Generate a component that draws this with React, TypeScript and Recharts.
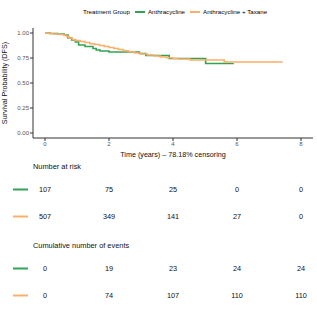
import { LineChart, Line, XAxis, YAxis, ScatterChart, Scatter } from 'recharts';

const groups = ['Anthracycline', 'Anthracycline + Taxane'];
const colors = ['#31a354', '#fdae6b'];

// KM step points (time in years, survival probability)
const anthTime = [0, 0.15, 0.4, 0.6, 0.72, 0.83, 0.95, 1.05, 1.25, 1.5, 1.6, 1.72, 2.0, 2.95, 3.15, 3.88, 5.02, 5.9];
const anthSurv = [1.0, 0.995, 0.99, 0.98, 0.95, 0.93, 0.91, 0.88, 0.865, 0.845, 0.83, 0.82, 0.81, 0.795, 0.775, 0.745, 0.695, 0.695];
const taxTime = [0, 0.1, 0.25, 0.45, 0.6, 0.68, 0.75, 0.85, 0.95, 1.1, 1.25, 1.4, 1.55, 1.7, 1.85, 2.0, 2.15, 2.3, 2.45, 2.6, 2.8, 3.0, 3.2, 3.4, 3.6, 3.8, 4.0, 4.15, 4.53, 5.6, 7.43];
const taxSurv = [1.0, 0.995, 0.99, 0.985, 0.975, 0.965, 0.95, 0.935, 0.925, 0.915, 0.905, 0.893, 0.885, 0.875, 0.865, 0.855, 0.845, 0.835, 0.822, 0.812, 0.8, 0.79, 0.78, 0.77, 0.76, 0.752, 0.745, 0.74, 0.73, 0.71, 0.71];

const xTicks = [0, 2, 4, 6, 8];
const yTicks = [0, 0.25, 0.5, 0.75, 1];

const tableTimes = [0, 2, 4, 6, 8];
const riskAnth = [107, 75, 25, 0, 0];
const riskTax = [507, 349, 141, 27, 0];
const eventsAnth = [0, 19, 23, 24, 24];
const eventsTax = [0, 74, 107, 110, 110];

const font = '"Liberation Sans", Arial, sans-serif';

const anthData = anthTime.map((t, i) => ({ t, s: anthSurv[i] }));
const taxData = taxTime.map((t, i) => ({ t, s: taxSurv[i] }));

function RiskTable({ rows, top }: { rows: number[][]; top: number }) {
  const data = rows.flatMap((vals, r) => vals.map((n, i) => ({ t: tableTimes[i], row: r, n })));
  return (
    <div style={{ position: 'absolute', left: 0, top }}>
      <ScatterChart width={317} height={54} margin={{ top: 0, right: 4, bottom: 0, left: 0 }}>
        <XAxis type="number" dataKey="t" domain={[0, 8]} hide padding={{ left: 12, right: 12 }} />
        <YAxis
          type="number" dataKey="row" domain={[-0.5, 1.5]} reversed width={33} ticks={[0, 1]}
          axisLine={false} tickLine={false}
          tick={(p: any) => (
            <line key={p.index} x1={13} x2={28} y1={p.y} y2={p.y} stroke={colors[p.payload.value]} strokeWidth={2} />
          )}
        />
        <Scatter
          data={data} isAnimationActive={false}
          shape={(p: any) => (
            <text x={p.cx} y={p.cy} textAnchor="middle" dominantBaseline="central" fontSize={7.3} fontFamily={font} fill="#111">
              {p.payload.n}
            </text>
          )}
        />
      </ScatterChart>
    </div>
  );
}

export default function App() {
  return (
    <div style={{ position: 'absolute', left: 0, top: 0, width: 317, height: 317, background: '#fff', fontFamily: font }}>
      <div style={{ position: 'absolute', left: 83, top: 8, display: 'flex', alignItems: 'center', fontSize: 6.2, color: '#000', whiteSpace: 'nowrap' }}>
        <span style={{ marginRight: 5 }}>Treatment Group</span>
        <span style={{ width: 10, height: 2, background: colors[0], marginRight: 3 }} />
        <span style={{ marginRight: 5 }}>{groups[0]}</span>
        <span style={{ width: 10, height: 2, background: colors[1], marginRight: 3 }} />
        <span>{groups[1]}</span>
      </div>
      <div style={{ position: 'absolute', left: 0, top: 0 }}>
        <LineChart width={317} height={160} margin={{ top: 28, right: 4, bottom: 0, left: 0 }}>
          <XAxis
            type="number" dataKey="t" domain={[0, 8]} ticks={xTicks} padding={{ left: 12, right: 12 }}
            height={22} tickSize={3} tickMargin={1} stroke="#333"
            tick={{ fontSize: 6, fill: '#555', fontFamily: font }}
            label={{ value: 'Time (years) – 78.18% censoring', position: 'insideBottom', offset: 3, fontSize: 7.2, fill: '#111', fontFamily: font }}
          />
          <YAxis
            type="number" domain={[0, 1]} ticks={yTicks} padding={{ top: 5, bottom: 5 }}
            width={33} tickSize={3} tickMargin={1} stroke="#333"
            tickFormatter={(v: number) => v.toFixed(2)}
            tick={{ fontSize: 6, fill: '#555', fontFamily: font }}
            label={{
              content: () => (
                <text transform="translate(7,83) rotate(-90)" textAnchor="middle" fontSize={7.2} fill="#111" fontFamily={font}>
                  Survival Probability (DFS)
                </text>
              ),
            }}
          />
          <Line data={anthData} dataKey="s" type="stepAfter" stroke={colors[0]} strokeWidth={1.6} dot={false} isAnimationActive={false} />
          <Line data={taxData} dataKey="s" type="stepAfter" stroke={colors[1]} strokeWidth={1.6} dot={false} isAnimationActive={false} />
        </LineChart>
      </div>
      <div style={{ position: 'absolute', left: 33, top: 162, fontSize: 7.4, color: '#111' }}>Number at risk</div>
      <RiskTable rows={[riskAnth, riskTax]} top={176} />
      <div style={{ position: 'absolute', left: 33, top: 241, fontSize: 7.4, color: '#111' }}>Cumulative number of events</div>
      <RiskTable rows={[eventsAnth, eventsTax]} top={255} />
    </div>
  );
}
